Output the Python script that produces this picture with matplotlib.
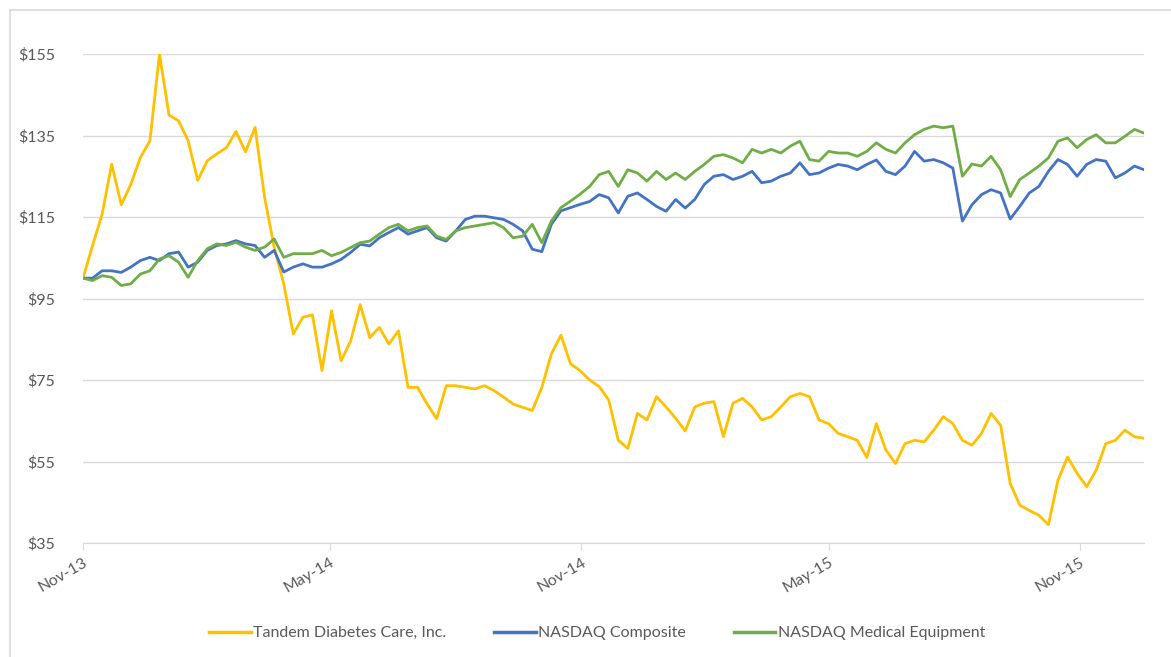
import matplotlib
matplotlib.use('Agg')
import matplotlib.pyplot as plt
import matplotlib.dates as mdates
from matplotlib.lines import Line2D
import pandas as pd

# weekly samples, first trading day (IPO) to year end 2015
dates = pd.date_range('2013-11-14', '2015-12-31', freq='7D')

tandem = [
    100, 108, 115.7, 128, 118, 123, 129.6, 133.7, 155, 140,
    138.6, 133.7, 124, 128.8, 130.5, 132, 136, 131, 137, 119.8,
    107.6, 98.6, 86.3, 90.4, 91, 77.3, 92, 79.7, 84.6, 93.5,
    85.4, 87.9, 83.8, 87.1, 73.2, 73.2, 69.1, 65.5, 73.6, 73.6,
    73.2, 72.8, 73.6, 72.4, 70.8, 69.1, 68.3, 67.5, 73.2, 81.4,
    86, 79, 77.3, 75, 73.4, 70.1, 60.2, 58.2, 66.8, 65.2,
    70.9, 68.4, 65.6, 62.5, 68.4, 69.3, 69.7, 61.1, 69.3, 70.5,
    68.4, 65.2, 66, 68.4, 70.9, 71.7, 70.9, 65.2, 64.3, 61.9,
    61.1, 60.2, 56, 64.3, 57.8, 54.5, 59.4, 60.2, 59.8, 62.7,
    66, 64.3, 60.2, 59, 61.9, 66.8, 63.9, 49.6, 44.3, 43,
    41.8, 39.5, 50.4, 56.1, 52.1, 48.8, 52.9, 59.4, 60.2, 62.7,
    61.1, 60.7,
]

nasdaq = [
    100, 100, 101.8, 101.8, 101.4, 102.7, 104.3, 105.1, 104.3, 106,
    106.4, 102.7, 103.9, 106.8, 108, 108.4, 109.2, 108.4, 108, 105.1,
    106.8, 101.5, 102.7, 103.5, 102.7, 102.7, 103.5, 104.6, 106.3, 108.3,
    107.9, 109.9, 111.2, 112.4, 110.8, 111.6, 112.4, 109.9, 109.1, 111.6,
    114.4, 115.2, 115.2, 114.8, 114.4, 113.2, 111.6, 107.1, 106.5, 113.2,
    116.5, 117.3, 118.1, 118.8, 120.5, 119.7, 116, 120.1, 120.9, 119.3,
    117.6, 116.4, 119.3, 117.2, 119.3, 123, 125, 125.4, 124.2, 125,
    126.2, 123.4, 123.8, 125, 125.8, 128.3, 125.4, 125.8, 127, 127.9,
    127.5, 126.6, 127.9, 129, 126.2, 125.4, 127.5, 131.1, 128.7, 129.1,
    128.3, 127, 114, 118, 120.5, 121.7, 120.9, 114.5, 117.6, 120.9,
    122.5, 126.2, 129.1, 127.9, 125, 127.9, 129.1, 128.7, 124.6, 125.8,
    127.5, 126.6,
]

med_equip = [
    100, 99.4, 100.6, 100.2, 98.2, 98.6, 101, 101.8, 104.7, 105.5,
    103.9, 100.2, 104.3, 107.2, 108.4, 108, 108.8, 107.6, 106.8, 107.6,
    109.6, 105.1, 106, 106, 106, 106.8, 105.5, 106.3, 107.5, 108.7,
    109.1, 110.8, 112.4, 113.2, 111.6, 112.4, 112.8, 110.3, 109.5, 111.6,
    112.4, 112.8, 113.2, 113.6, 112.4, 109.9, 110.3, 113.2, 108.7, 114,
    117.3, 118.9, 120.6, 122.5, 125.4, 126.2, 122.5, 126.6, 125.8, 123.8,
    126.2, 124.2, 125.8, 124.2, 126.2, 127.9, 129.9, 130.3, 129.5, 128.3,
    131.6, 130.7, 131.6, 130.7, 132.4, 133.6, 129.1, 128.7, 131.1, 130.7,
    130.7, 129.9, 131.1, 133.2, 131.6, 130.7, 133.2, 135.2, 136.5, 137.3,
    136.9, 137.3, 125, 128, 127.5, 129.9, 126.6, 120, 124.2, 125.8,
    127.5, 129.5, 133.6, 134.4, 132, 134, 135.2, 133.2, 133.2, 134.8,
    136.5, 135.6,
]

series_names = ['Tandem Diabetes Care, Inc.', 'NASDAQ Composite', 'NASDAQ Medical Equipment']
colors = ['#FFC000', '#4472C4', '#70AD47']
y_ticks = [35, 55, 75, 95, 115, 135, 155]
x_ticks = ['2013-11-14', '2014-05-14', '2014-11-14', '2015-05-14', '2015-11-14']

plt.rcParams['font.family'] = ['Lato', 'DejaVu Sans']
text_color = '#595959'
grid_color = '#D9D9D9'

fig = plt.figure(figsize=(11.71, 6.57), dpi=100)
ax = fig.add_axes([83 / 1171, 1 - 543 / 657, (1144 - 83) / 1171, (543 - 54) / 657])

for vals, c in zip([tandem, nasdaq, med_equip], colors):
    ax.plot(dates, vals, color=c, lw=2.0, solid_joinstyle='round')

ax.set_ylim(35, 155)
ax.set_xlim(dates[0], dates[-1])
ax.set_yticks(y_ticks)
ax.set_yticklabels(['$%d' % v for v in y_ticks])
ax.set_xticks(pd.to_datetime(x_ticks))
ax.xaxis.set_major_formatter(mdates.DateFormatter('%b-%y'))

ax.grid(axis='y', color=grid_color, lw=1.0)
ax.set_axisbelow(True)
for s in ['top', 'right', 'left']:
    ax.spines[s].set_visible(False)
ax.spines['bottom'].set_color(grid_color)
ax.tick_params(axis='y', length=0, pad=20, labelsize=11.5, labelcolor=text_color)
ax.tick_params(axis='x', length=5, color=grid_color, pad=4, labelsize=11.5, labelcolor=text_color)
for lbl in ax.get_xticklabels():
    lbl.set_rotation(30)
    lbl.set_ha('right')
    lbl.set_va('top')
    lbl.set_rotation_mode('anchor')

handles = [Line2D([0], [0], color=c, lw=2.5) for c in colors]
fig.legend(handles, series_names, loc='center', bbox_to_anchor=(597 / 1171, 1 - 633 / 657),
           ncol=3, frameon=False, fontsize=11.5, labelcolor=text_color,
           handlelength=2.6, handletextpad=0.15, columnspacing=3.0)

# chart frame (left and top edges visible in the crop)
fig.add_artist(Line2D([10 / 1171, 10 / 1171], [0, 1 - 10 / 657], color=grid_color, lw=1.2))
fig.add_artist(Line2D([10 / 1171, 1], [1 - 10 / 657, 1 - 10 / 657], color=grid_color, lw=1.2))

fig.savefig('out.png', dpi=100)
